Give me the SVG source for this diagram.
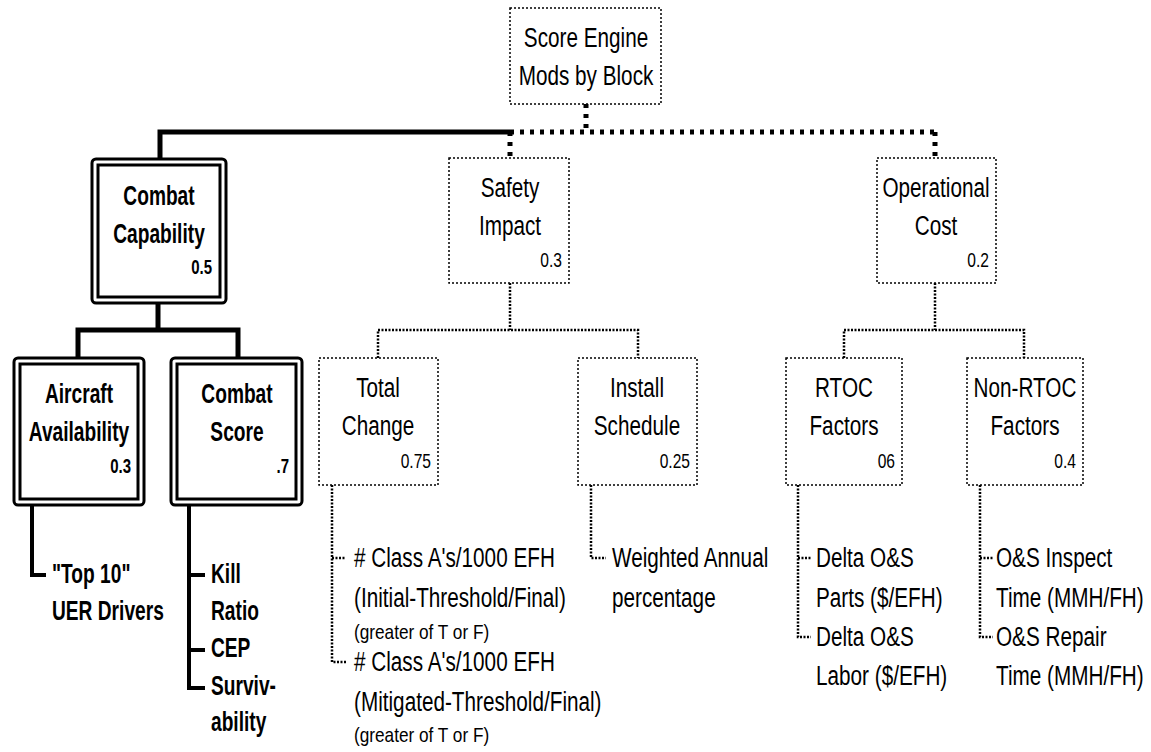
<svg xmlns="http://www.w3.org/2000/svg" width="1151" height="752" viewBox="0 0 1151 752">
<style>
text{font-family:"Liberation Sans",Arial,sans-serif;fill:#000}
.t{font-size:28px;text-anchor:middle}
.b{font-size:27px;font-weight:bold;text-anchor:middle}
.w{font-size:20px;text-anchor:end}
.wb{font-size:20px;font-weight:bold;text-anchor:end}
.l{font-size:28px}
.lb{font-size:27px;font-weight:bold}
.s{font-size:21px}
.dbox{fill:#fff;stroke:#000;stroke-width:1.5;stroke-dasharray:2 2}
.outer{fill:#fff;stroke:#000;stroke-width:3}
.inner{fill:none;stroke:#000;stroke-width:3}
.solid{fill:none;stroke:#000;stroke-width:5}
.thickdot{fill:none;stroke:#000;stroke-width:5;stroke-dasharray:4 6}
.dot{fill:none;stroke:#000;stroke-width:2.5;stroke-dasharray:2 1.5}
.sol4{fill:none;stroke:#000;stroke-width:4}
</style>
<rect width="1151" height="752" fill="#fff"/>
<g id="connectors">
<path class="solid" d="M160,159 V132 H510"/>
<path class="thickdot" d="M510,132 H935"/>
<path class="thickdot" d="M586,104 V132"/>
<path class="thickdot" d="M510,132 V158"/>
<path class="thickdot" d="M935,132 V158"/>
<path class="solid" d="M158,303 V330 M78,358 V330 H238 V358"/>
<path class="sol4" d="M32,505 V575 H46"/>
<path class="sol4" d="M189,505 V688 H205 M189,575 H205 M189,650 H205"/>
<path class="dot" d="M510,283 V330 M378,358 V330 H638 V358"/>
<path class="dot" d="M935,283 V330 M844,358 V330 H1024 V358"/>
<path class="dot" d="M332,485 V662 H346 M332,558 H346"/>
<path class="dot" d="M591,485 V558 H606"/>
<path class="dot" d="M798,485 V637 H811 M798,558 H811"/>
<path class="dot" d="M980,485 V637 H993 M980,558 H993"/>
</g>
<g id="root">
<rect class="dbox" x="510" y="8" width="151" height="96"/>
<text class="t" transform="matrix(0.74 0 0 1 586 47)">Score Engine</text>
<text class="t" transform="matrix(0.74 0 0 1 586 85)">Mods by Block</text>
</g>
<g id="combat-capability">
<rect class="outer" x="92" y="159" width="134" height="144" rx="4"/>
<rect class="inner" x="98" y="165" width="122" height="132"/>
<text class="b" transform="matrix(0.71 0 0 1 159 205)">Combat</text>
<text class="b" transform="matrix(0.71 0 0 1 159 243)">Capability</text>
<text class="wb" transform="matrix(0.75 0 0 1 212 274)">0.5</text>
</g>
<g id="safety-impact">
<rect class="dbox" x="449" y="158" width="120" height="125"/>
<text class="t" transform="matrix(0.74 0 0 1 510 197)">Safety</text>
<text class="t" transform="matrix(0.74 0 0 1 510 235)">Impact</text>
<text class="w" transform="matrix(0.78 0 0 1 562 267)">0.3</text>
</g>
<g id="operational-cost">
<rect class="dbox" x="877" y="158" width="119" height="125"/>
<text class="t" transform="matrix(0.74 0 0 1 936 197)">Operational</text>
<text class="t" transform="matrix(0.74 0 0 1 936 235)">Cost</text>
<text class="w" transform="matrix(0.78 0 0 1 989 267)">0.2</text>
</g>
<g id="aircraft-availability">
<rect class="outer" x="14" y="358" width="130" height="147" rx="4"/>
<rect class="inner" x="20" y="364" width="118" height="135"/>
<text class="b" transform="matrix(0.71 0 0 1 79 403)">Aircraft</text>
<text class="b" transform="matrix(0.71 0 0 1 79 441)">Availability</text>
<text class="wb" transform="matrix(0.75 0 0 1 131 473)">0.3</text>
</g>
<g id="combat-score">
<rect class="outer" x="171" y="358" width="131" height="147" rx="4"/>
<rect class="inner" x="177" y="364" width="119" height="135"/>
<text class="b" transform="matrix(0.71 0 0 1 237 403)">Combat</text>
<text class="b" transform="matrix(0.71 0 0 1 237 441)">Score</text>
<text class="wb" transform="matrix(0.75 0 0 1 289 473)">.7</text>
</g>
<g id="total-change">
<rect class="dbox" x="319" y="358" width="119" height="127"/>
<text class="t" transform="matrix(0.74 0 0 1 378 397)">Total</text>
<text class="t" transform="matrix(0.74 0 0 1 378 435)">Change</text>
<text class="w" transform="matrix(0.78 0 0 1 431 468)">0.75</text>
</g>
<g id="install-schedule">
<rect class="dbox" x="578" y="358" width="119" height="127"/>
<text class="t" transform="matrix(0.74 0 0 1 637 397)">Install</text>
<text class="t" transform="matrix(0.74 0 0 1 637 435)">Schedule</text>
<text class="w" transform="matrix(0.78 0 0 1 690 468)">0.25</text>
</g>
<g id="rtoc-factors">
<rect class="dbox" x="786" y="358" width="116" height="127"/>
<text class="t" transform="matrix(0.74 0 0 1 844 397)">RTOC</text>
<text class="t" transform="matrix(0.74 0 0 1 844 435)">Factors</text>
<text class="w" transform="matrix(0.78 0 0 1 895 468)">06</text>
</g>
<g id="non-rtoc-factors">
<rect class="dbox" x="967" y="358" width="116" height="127"/>
<text class="t" transform="matrix(0.74 0 0 1 1025 397)">Non-RTOC</text>
<text class="t" transform="matrix(0.74 0 0 1 1025 435)">Factors</text>
<text class="w" transform="matrix(0.78 0 0 1 1076 468)">0.4</text>
</g>
<g id="aa-leaves">
<text class="lb" transform="matrix(0.71 0 0 1 52 583)">"Top 10"</text>
<text class="lb" transform="matrix(0.71 0 0 1 52 620)">UER Drivers</text>
</g>
<g id="cs-leaves">
<text class="lb" transform="matrix(0.71 0 0 1 211 583)">Kill</text>
<text class="lb" transform="matrix(0.71 0 0 1 211 620)">Ratio</text>
<text class="lb" transform="matrix(0.71 0 0 1 211 657)">CEP</text>
<text class="lb" transform="matrix(0.71 0 0 1 211 695)">Surviv-</text>
<text class="lb" transform="matrix(0.71 0 0 1 211 731)">ability</text>
</g>
<g id="tc-leaves">
<text class="l" transform="matrix(0.74 0 0 1 354 567)"># Class A's/1000 EFH</text>
<text class="l" transform="matrix(0.74 0 0 1 354 607)">(Initial-Threshold/Final)</text>
<text class="s" transform="matrix(0.82 0 0 1 354 639)">(greater of T or F)</text>
<text class="l" transform="matrix(0.74 0 0 1 354 671)"># Class A's/1000 EFH</text>
<text class="l" transform="matrix(0.74 0 0 1 354 711)">(Mitigated-Threshold/Final)</text>
<text class="s" transform="matrix(0.82 0 0 1 354 742)">(greater of T or F)</text>
</g>
<g id="is-leaves">
<text class="l" transform="matrix(0.74 0 0 1 612 567)">Weighted Annual</text>
<text class="l" transform="matrix(0.74 0 0 1 612 607)">percentage</text>
</g>
<g id="rtoc-leaves">
<text class="l" transform="matrix(0.74 0 0 1 816 567)">Delta O&amp;S</text>
<text class="l" transform="matrix(0.74 0 0 1 816 607)">Parts ($/EFH)</text>
<text class="l" transform="matrix(0.74 0 0 1 816 646)">Delta O&amp;S</text>
<text class="l" transform="matrix(0.74 0 0 1 816 685)">Labor  ($/EFH)</text>
</g>
<g id="nonrtoc-leaves">
<text class="l" transform="matrix(0.74 0 0 1 996 567)">O&amp;S Inspect</text>
<text class="l" transform="matrix(0.74 0 0 1 996 607)">Time (MMH/FH)</text>
<text class="l" transform="matrix(0.74 0 0 1 996 646)">O&amp;S Repair</text>
<text class="l" transform="matrix(0.74 0 0 1 996 685)">Time (MMH/FH)</text>
</g>
</svg>
